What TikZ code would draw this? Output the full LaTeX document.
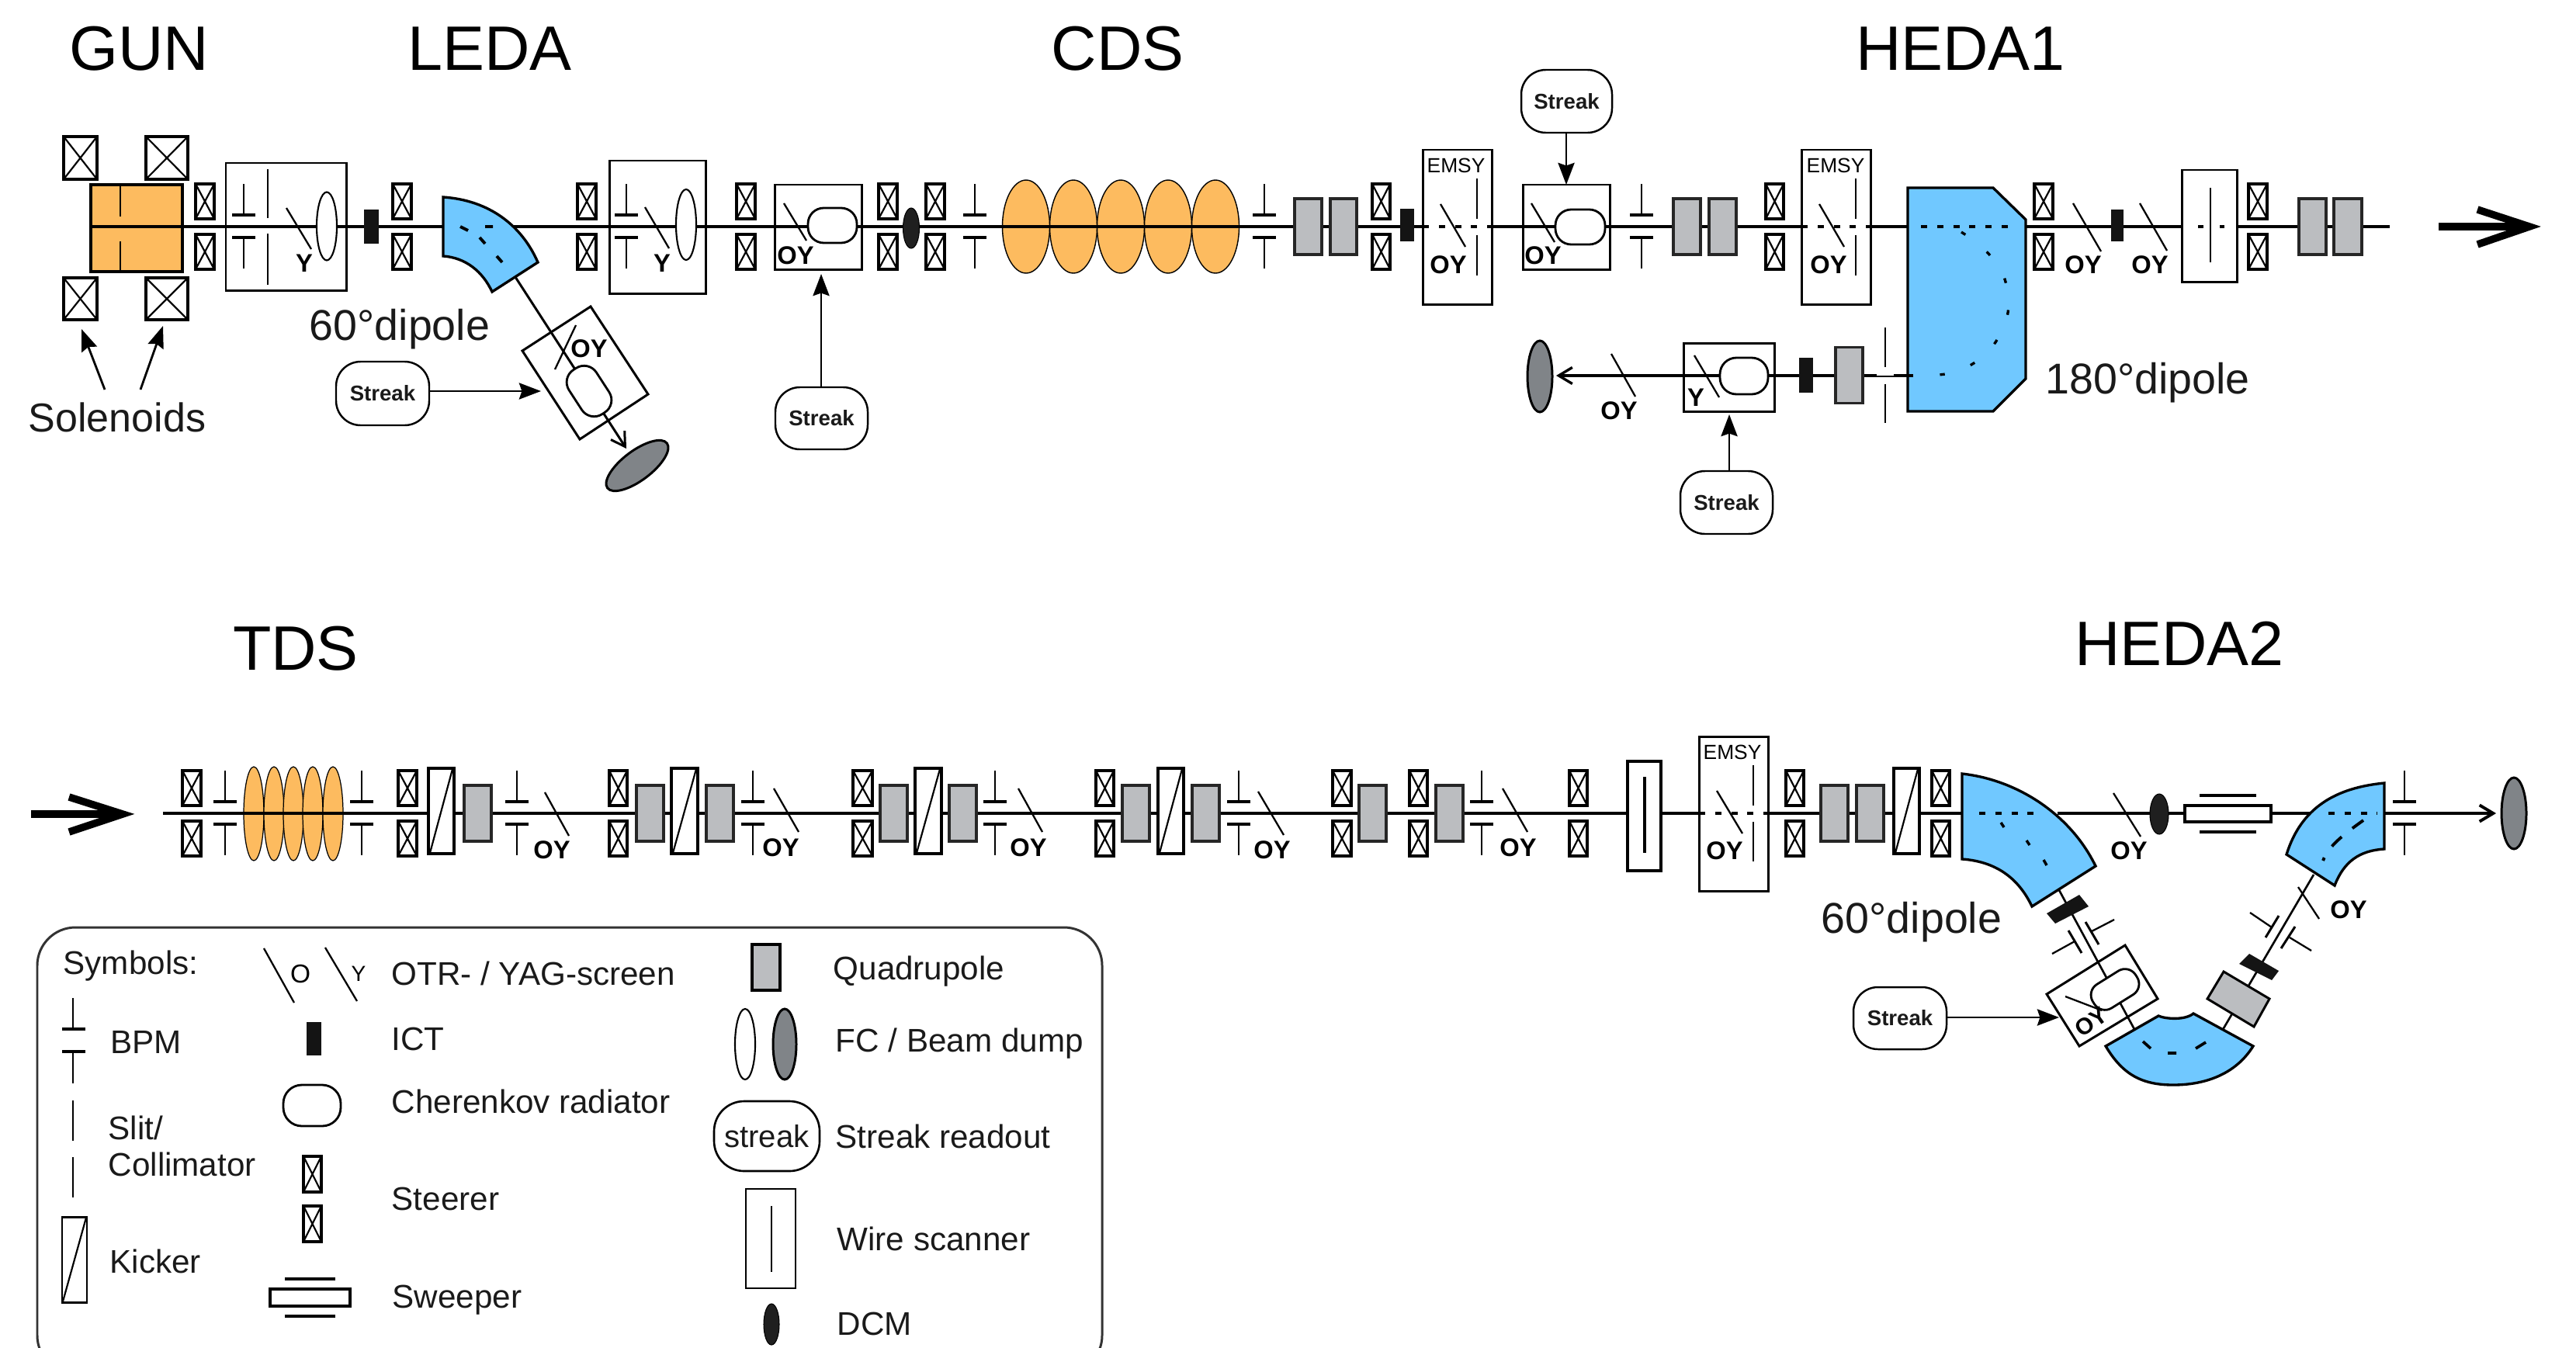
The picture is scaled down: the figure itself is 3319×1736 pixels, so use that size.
\documentclass[tikz,border=0pt]{standalone}
\usepackage{fontspec}
\setmainfont{Liberation Sans}
\usetikzlibrary{arrows.meta}
\definecolor{orng}{HTML}{FDBB5F}
\definecolor{dipblue}{HTML}{70C8FF}
\definecolor{quadgray}{HTML}{BBBDC0}
\definecolor{dumpgray}{HTML}{808488}
\definecolor{inkc}{HTML}{1A1A1A}
\newcounter{nn}
\tikzset{
  thk/.style={line width=1.2pt,line cap=butt},
  med/.style={line width=.85pt},
  thn/.style={line width=.62pt},
  dipole/.style={fill=dipblue,draw=black,line width=.95pt,line join=miter},
  quadst/.style={fill=quadgray,draw=black!85,line width=.9pt},
  box/.style={draw=black,line width=.85pt},
  wbox/.style={draw=black,fill=white,line width=.9pt},
  dashin/.style={line width=1.15pt,dash pattern=on 2.3pt off 3.6pt},
  dashcurve/.style={line width=.95pt,dash pattern=on 1.8pt off 10pt},
  sarrow/.style={line width=.8pt,-{Stealth[length=8pt,width=6pt,inset=1pt]}},
  openarrow/.style={line width=.85pt,-{Straight Barb[length=5pt,width=6pt]}},
  bigarrow/.style={line width=2.7pt,line join=miter},
  tlab/.style={inner sep=0pt,text=inkc,font=\fontsize{12}{14}\selectfont},
  title/.style={inner sep=0pt,text=black,font=\fontsize{23}{27}\selectfont},
  dlab/.style={inner sep=0pt,text=inkc,font=\fontsize{15.8}{18}\selectfont},
  oylab/.style={inner sep=0pt,text=black,font=\fontsize{9.3}{11}\selectfont\bfseries},
  emlab/.style={inner sep=0pt,text=black,font=\fontsize{7.5}{9}\selectfont},
}
% steerer-like crossed box
\newcommand{\CrossBox}[4]{%
  \draw[line width=1pt] (#1,#2) rectangle (#3,#4);
  \draw[thn] (#1,#2) -- (#3,#4) (#3,#2) -- (#1,#4);}
\newcommand{\SteerP}[3]{\CrossBox{#1}{#3-55}{#2}{#3-10}\CrossBox{#1}{#3+10}{#2}{#3+55}}
\newcommand{\BPMv}[2]{%
  \draw[line width=.7pt] (#1,#2-55) -- (#1,#2-15) (#1,#2+14) -- (#1,#2+54);
  \draw[line width=.95pt] (#1-15,#2-15) -- (#1+15,#2-15) (#1-15,#2+14) -- (#1+15,#2+14);}
\newcommand{\QuadV}[3]{\draw[quadst] (#1,#3-36) rectangle (#2,#3+36);}
\newcommand{\KickV}[3]{%
  \draw[wbox] (#1,#3-58) rectangle (#2,#3+52);
  \draw[thn] (#1+2,#3+51) -- (#2-2,#3-57);}
\newcommand{\Scr}[4]{\draw[line width=.65pt] (#1,#2) -- (#3,#4);}
\newcommand{\OYt}[2]{\stepcounter{nn}\node[oylab] (oy\thenn) at (#1,#2) {OY};}
\newcommand{\Yt}[2]{\stepcounter{nn}\node[oylab] (yy\thenn) at (#1,#2) {Y};}
\newcommand{\EmsyT}[2]{\stepcounter{nn}\node[emlab] (em\thenn) at (#1,#2) {EMSY};}
\newcommand{\Ict}[4]{\fill[black!92] (#1,#3) rectangle (#2,#4);}
\newcommand{\FC}[3]{\draw[fill=white,line width=.6pt] (#1,#2) ellipse [x radius=13,y radius=#3];}
\newcommand{\Dcm}[4]{\draw[fill=black!88,line width=.3pt] (#1,#2) ellipse [x radius=#3,y radius=#4];}
\newcommand{\Dump}[3]{\draw[fill=dumpgray,line width=.85pt] (#1,#2) ellipse [x radius=16,y radius=#3];}
% name, cx, cy, w, h, rot
\newcommand{\Cher}[6]{\node[draw=black,fill=white,line width=.8pt,inner sep=0pt,
   minimum width=#4*0.01cm,minimum height=#5*0.01cm,rounded corners=#5*0.0045cm,rotate=#6] (#1) at (#2,#3) {};}
% name, xl, xr, yt, yb
\newcommand{\StreakN}[5]{\node[draw=black,line width=.7pt,inner sep=0pt,rounded corners=9pt,
   text=inkc,font=\fontsize{7.85}{9}\selectfont\bfseries,
   minimum width={(#3-#2)*0.01cm},minimum height={(#5-#4)*0.01cm}] (#1) at ({(#2+#3)/2},{(#4+#5)/2}) {Streak};}
\begin{document}
\begin{tikzpicture}[x=0.01cm,y=-0.01cm]
\useasboundingbox (0,0) rectangle (3319,1736);
\fill[white] (0,0) rectangle (3319,1736);

% ---------- titles ----------
\node[title] (tGUN) at (179,63) {GUN};
\node[title] (tLEDA) at (631,63) {LEDA};
\node[title] (tCDS) at (1440,63) {CDS};
\node[title] (tHEDA1) at (2526,63) {HEDA1};
\node[title] (tTDS) at (381,836) {TDS};
\node[title] (tHEDA2) at (2808,829) {HEDA2};
\node[dlab] (d60a) at (515,424) {60°dipole};
\node[dlab] (d180) at (2767,493) {180°dipole};
\node[dlab] (d60b) at (2463,1188) {60°dipole};
\node[inner sep=0pt,text=inkc,font=\fontsize{14.8}{17}\selectfont] (tSol) at (151,538) {Solenoids};

% ---------- gun ----------
\draw[fill=orng,line width=.95pt] (117,238) rectangle (235,350);
\draw[thn,line width=.8pt] (155,238) -- (155,279) (155,311) -- (155,350);
\CrossBox{82}{176}{125}{231}
\CrossBox{188}{176}{242}{231}
\CrossBox{82}{358}{125}{412}
\CrossBox{188}{358}{242}{412}
\coordinate (solA) at (105,424);
\coordinate (solB) at (210,420);
\coordinate (solAs) at (135,502);
\coordinate (solBs) at (181,502);
\draw[sarrow] (solAs) -- (solA);
\draw[sarrow] (solBs) -- (solB);

% ---------- CDS cavity ----------
\foreach \cx in {1322,1383,1444,1505,1566}
  \draw[fill=orng,line width=.4pt] (\cx,292) ellipse [x radius=30.5,y radius=60];

% ---------- beam, first line ----------
\coordinate (b0) at (117,292);
\coordinate (b1) at (1833,292);
\coordinate (b2) at (1922,292);
\coordinate (b3) at (2321,292);
\coordinate (b4) at (2410,292);
\coordinate (b5) at (2458,292);
\coordinate (b6) at (2610,292);
\coordinate (b7) at (2811,292);
\coordinate (b8) at (2882,292);
\coordinate (b9) at (3079,292);
\draw[thk] (b0) -- (b1) (b2) -- (b3) (b4) -- (b5) (b6) -- (b7) (b8) -- (b9);
\draw[dashin] (b1) -- (b2);
\draw[dashin] (b3) -- (b4);

% ---------- GUN / LEDA elements ----------
\SteerP{252}{276}{292}
\draw[box] (291,210) rectangle (446,374);
\BPMv{314}{292}
\draw[line width=.7pt] (345,218) -- (345,281) (345,301) -- (345,367);
\Scr{369}{268}{401}{321}
\Yt{392}{339}
\FC{421}{291.5}{44}
\Ict{469}{488}{270}{314}
\SteerP{506}{530}{292}
% 60 deg dipole with side branch
\coordinate (sideA) at (664,357);
\coordinate (sideB) at (807,578);
\draw[openarrow] (sideA) -- (sideB);
\draw[dipole] (571,254) .. controls (630,258) and (672,290) .. (693,338)
   -- (634,376) .. controls (622,350) and (600,332) .. (571,330) -- cycle;
\draw[line width=1.1pt] (593,292) -- (603,297) (625,292) -- (635,292) (618,306) -- (625,314) (640,330) -- (647,338);
\draw[box] (761,395) -- (835,508) -- (747,566) -- (673,452) -- cycle;
\Scr{742}{419}{715}{476}
\OYt{759}{449}
\Cher{chA}{759}{504}{68}{42}{-57}
\draw[fill=dumpgray,line width=.85pt,shift={(821,600)},rotate=37] (0,0) ellipse [x radius=48,y radius=19];
\StreakN{stA}{433}{553}{466}{548}
\coordinate (stAe) at (697,504);
\draw[sarrow] (stA.east |- stAe) -- (stAe);
\SteerP{744}{768}{292}
\draw[box] (785,207) rectangle (909,378);
\BPMv{807}{292}
\Scr{831}{267}{862}{320}
\Yt{853}{339}
\FC{884}{289.5}{45.5}
\SteerP{949}{973}{292}
\draw[box] (998,238) rectangle (1110,347);
\Scr{1010}{262}{1039}{310}
\Cher{chB}{1072.5}{290.5}{63}{45}{0}
\OYt{1025}{329}
\StreakN{stB}{999}{1118}{499}{579}
\coordinate (stBe) at (1058,353);
\draw[sarrow] (stB.north -| stBe) -- (stBe);
\SteerP{1132}{1156}{292}

% ---------- CDS elements ----------
\Dcm{1174}{294}{10.5}{26}
\SteerP{1193}{1217}{292}
\BPMv{1256}{292}
\BPMv{1629}{292}
\QuadV{1668}{1703}{292}
\QuadV{1714}{1748}{292}
\SteerP{1768}{1791}{292}
\Ict{1804}{1822}{269}{311}

% ---------- EMSY 1 ----------
\draw[box] (1833,193) rectangle (1922,392);
\EmsyT{1876}{213}
\draw[line width=.7pt] (1903,230) -- (1903,282) (1903,303) -- (1903,355);
\Scr{1856}{263}{1888}{318}
\OYt{1866}{341}

% ---------- streak box ----------
\draw[box] (1962,238) rectangle (2074,347);
\Scr{1973}{262}{2003}{312}
\Cher{chC}{2036}{292.5}{64}{45}{0}
\OYt{1988}{329}
\StreakN{stC}{1960}{2077}{90}{171}
\coordinate (stCe) at (2018,238);
\draw[sarrow] (stC.south -| stCe) -- (stCe);
\BPMv{2115}{292}
\QuadV{2156}{2191}{292}
\QuadV{2202}{2237}{292}
\SteerP{2275}{2298}{292}

% ---------- EMSY 2 ----------
\draw[box] (2321,193) rectangle (2410,392);
\EmsyT{2365}{213}
\draw[line width=.7pt] (2391,230) -- (2391,282) (2391,303) -- (2391,355);
\Scr{2344}{263}{2376}{318}
\OYt{2356}{341}

% ---------- 180 dipole ----------
\draw[dipole] (2458,242) -- (2568,242) -- (2610,283) -- (2610,488) -- (2568,530) -- (2458,530) -- cycle;
\draw[dashin] (2475,292) -- (2593,292);
\draw[dashcurve] plot[smooth] coordinates {(2527,299) (2550,315) (2569,335) (2582,357) (2588,384) (2586,408) (2576,433) (2560,455) (2538,471) (2512,481) (2486,484)};
\SteerP{2621}{2645}{292}
\Scr{2671}{262}{2707}{324}
\OYt{2684}{341}
\Ict{2720}{2736}{270}{311}
\Scr{2757}{262}{2792}{323}
\OYt{2770}{341}
\draw[box] (2811,219) rectangle (2882,363);
\draw[line width=.7pt] (2848,242) -- (2848,338);
\draw[line width=1.15pt] (2832,292) -- (2839,292) (2860,292) -- (2866,292);
\SteerP{2897}{2921}{292}
\QuadV{2962}{2997}{292}
\QuadV{3007}{3043}{292}
\coordinate (bigAs) at (3142,292);
\coordinate (bigAe) at (3259,292);
\draw[bigarrow] (bigAs) -- (bigAe);
\draw[bigarrow] (3192,270) -- (bigAe) -- (3192,315);

% ---------- lower branch of 180 dipole ----------
\coordinate (lbS) at (2465,484);
\coordinate (lbE) at (2005,484);
\draw[openarrow,line width=.95pt] (lbS) -- (lbE);
\Dump{1984}{485}{46}
\Scr{2076}{456}{2107}{511}
\OYt{2086}{529}
\draw[box] (2169,442) rectangle (2286,530);
\Scr{2183}{458}{2215}{512}
\Yt{2185}{512}
\Cher{chD}{2247}{484.5}{62}{47}{0}
\StreakN{stD}{2165}{2284}{607}{688}
\coordinate (stDe) at (2228,534);
\draw[sarrow] (stD.north -| stDe) -- (stDe);
\Ict{2318}{2336}{461}{506}
\QuadV{2365}{2400}{483.5}
\fill[white] (2418,473) rectangle (2440,484);
\draw[line width=.7pt] (2429,422) -- (2429,473) (2429,495) -- (2429,545);

% ---------- beam, second line ----------
\coordinate (c0) at (210,1048);
\coordinate (c1) at (2097,1048);
\coordinate (c2) at (2140,1048);
\coordinate (c3) at (2189,1048);
\coordinate (c4) at (2278,1048);
\coordinate (c5) at (2528,1048);
\coordinate (c6) at (2651,1048);
\coordinate (c7) at (3216,1048);
\foreach \cx in {327,353,378,403,429}
  \draw[fill=orng,line width=.35pt] (\cx,1048.5) ellipse [x radius=13,y radius=60.5];
\draw[thk] (c0) -- (c1) (c2) -- (c3) (c4) -- (c5);
\draw[dashin] (c3) -- (c4);
\draw[thk] (c6) -- (3200,1048);
\draw[openarrow,line width=1.1pt] (3190,1048) -- (c7);
\coordinate (bigBs) at (40,1049);
\coordinate (bigBe) at (158,1049);
\draw[bigarrow] (bigBs) -- (bigBe);
\draw[bigarrow] (89,1027) -- (bigBe) -- (89,1072);

\SteerP{235}{259}{1048}
\BPMv{290}{1048}
\BPMv{466}{1048}
\SteerP{513}{537}{1048}
\KickV{552}{585}{1048}
\QuadV{598}{633}{1048}
\BPMv{666}{1048}
\Scr{702}{1021}{733}{1077}
\OYt{711}{1095}
\SteerP{785}{808}{1048}
\QuadV{820}{855}{1048}
\KickV{865}{899}{1048}
\QuadV{910}{945}{1048}
\BPMv{970}{1048}
\Scr{997}{1016}{1029}{1072}
\OYt{1006}{1092}
\SteerP{1099}{1124}{1048}
\QuadV{1134}{1169}{1048}
\KickV{1179}{1213}{1048}
\QuadV{1223}{1258}{1048}
\BPMv{1282}{1048}
\Scr{1312}{1016}{1343}{1072}
\OYt{1325}{1092}
\SteerP{1412}{1435}{1048}
\QuadV{1446}{1481}{1048}
\KickV{1492}{1525}{1048}
\QuadV{1536}{1571}{1048}
\BPMv{1596}{1048}
\Scr{1621}{1020}{1654}{1076}
\OYt{1639}{1095}
\SteerP{1717}{1741}{1048}
\QuadV{1751}{1786}{1048}
\SteerP{1816}{1839}{1048}
\QuadV{1850}{1885}{1048}
\BPMv{1909}{1048}
\Scr{1936}{1016}{1968}{1072}
\OYt{1956}{1092}
\SteerP{2022}{2045}{1048}
\draw[line width=.95pt] (2097,981) rectangle (2140,1122);
\draw[line width=1pt] (2119,1001) -- (2119,1099);
\draw[box] (2189,949) rectangle (2278,1148);
\EmsyT{2232}{969}
\draw[line width=.7pt] (2259,986) -- (2259,1038) (2259,1059) -- (2259,1110);
\Scr{2212}{1019}{2245}{1074}
\OYt{2222}{1096}
\SteerP{2301}{2324}{1048}
\QuadV{2346}{2381}{1048}
\QuadV{2392}{2427}{1048}
\KickV{2440}{2473}{1048}
\SteerP{2489}{2512}{1048}

% ---------- HEDA2 arc ----------
\coordinate (vA) at (2653,1147);
\coordinate (vB) at (2752,1330);
\coordinate (vC) at (2981,1127);
\coordinate (vD) at (2862,1330);
\draw[line width=.75pt] (vA) -- (vB);
\draw[line width=.75pt] (vC) -- (vD);
\draw[dipole] (2528,997) .. controls (2600,1005) and (2668,1050) .. (2700,1116)
   -- (2618,1168) .. controls (2600,1130) and (2570,1110) .. (2528,1107) -- cycle;
\draw[dashin] (2550,1048) -- (2620,1048);
\draw[line width=1pt] (2578,1060) -- (2582,1066) (2611,1083) -- (2615,1089) (2633,1108) -- (2637,1115);
\Scr{2723}{1022}{2758}{1078}
\OYt{2743}{1096}
\Dcm{2782}{1049}{12}{26}
\draw[draw=black,fill=white,line width=1.3pt] (2815,1038) rectangle (2926,1059);
\draw[line width=.95pt] (2834,1025) -- (2907,1025) (2834,1072) -- (2907,1072);
\draw[dipole] (3072,1009) .. controls (3010,1015) and (2965,1040) .. (2946,1101)
   -- (3008,1141) .. controls (3020,1110) and (3040,1096) .. (3072,1094) -- cycle;
\draw[dashin] (3000,1048) -- (3063,1048);
\draw[line width=1.1pt,dash pattern=on 5pt off 5pt] (3045,1057) .. controls (3020,1075) and (3000,1090) .. (2993,1109);
\Dump{3239}{1048}{46}
\BPMv{3098}{1048}

% left leg
\fill[black!92] (2637,1177) -- (2679,1153) -- (2691,1168) -- (2648,1190) -- cycle;
\draw[line width=.65pt] (2644,1229) -- (2673,1213) (2724,1185) -- (2695,1200);
\draw[line width=.85pt] (2665,1199) -- (2682,1228) (2687,1188) -- (2704,1217);
\draw[box] (2738,1218) -- (2780,1287) -- (2679,1348) -- (2637,1281) -- cycle;
\Cher{chE}{2725}{1275}{65}{36}{32}
\Scr{2661}{1284}{2708}{1302}
\stepcounter{nn}\node[inner sep=0pt,text=black,rotate=35,font=\fontsize{8.5}{9}\selectfont\bfseries] (oyrot) at (2694,1317) {OY};
\StreakN{stE}{2388}{2508}{1272}{1352}
\coordinate (stEe) at (2653,1311);
\draw[sarrow] (stE.east |- stEe) -- (stEe);
% bottom dipole
\draw[dipole] (2713,1348) -- (2781,1309) .. controls (2790,1313) and (2815,1315) .. (2826,1306)
   -- (2903,1348) .. controls (2880,1385) and (2840,1398) .. (2800,1398)
   .. controls (2760,1398) and (2735,1385) .. (2713,1348) -- cycle;
\draw[line width=1.05pt] (2761,1342) -- (2771,1351) (2793,1357) -- (2804,1357) (2829,1351) -- (2842,1343);
% right leg
\draw[draw=black,fill=quadgray,line width=.85pt] (2865,1252) -- (2924,1287) -- (2904,1323) -- (2844,1287) -- cycle;
\fill[black!92] (2898,1229) -- (2936,1251) -- (2927,1263) -- (2885,1242) -- cycle;
\draw[line width=.65pt] (2899,1176) -- (2927,1195) (2978,1225) -- (2950,1208);
\draw[line width=.85pt] (2936,1180) -- (2919,1208) (2957,1194) -- (2939,1222);
\Scr{2961}{1143}{2988}{1184}
\OYt{3026}{1172}

% ---------- legend ----------
\begin{scope}
\clip (0,0) rectangle (3319,1736);
\draw[line width=.85pt,draw=black!80,rounded corners=14pt] (48,1195) rectangle (1420,1770);
\end{scope}
\node[tlab,anchor=west] (lSym) at (81,1245) {Symbols:};
\Scr{340}{1222}{379}{1292}
\node[inner sep=0pt,font=\fontsize{9.5}{11}\selectfont] (lsO) at (387,1255) {O};
\Scr{419}{1221}{460}{1290}
\node[inner sep=0pt,font=\fontsize{8}{10}\selectfont] (lsY) at (462,1255) {Y};
\node[tlab,anchor=west] (lOTR) at (504,1254) {OTR- / YAG-screen};
\draw[line width=.95pt,fill=quadgray] (969,1217) rectangle (1005,1276);
\node[tlab,anchor=west] (lQuad) at (1073,1252) {Quadrupole};
\draw[line width=.7pt] (94,1286) -- (94,1326) (94,1355) -- (94,1396);
\draw[line width=.95pt] (80,1326) -- (110,1326) (80,1355) -- (110,1355);
\node[tlab,anchor=west] (lBPM) at (142,1343) {BPM};
\fill[black!92] (395,1317) rectangle (414,1360);
\node[tlab,anchor=west] (lICT) at (504,1339) {ICT};
\draw[fill=white,line width=.6pt] (960,1345.5) ellipse [x radius=13,y radius=45.5];
\draw[fill=dumpgray,line width=.85pt] (1011,1345.5) ellipse [x radius=15,y radius=45.5];
\node[tlab,anchor=west] (lFC) at (1076,1345) {FC / Beam dump};
\draw[line width=.65pt] (94,1418) -- (94,1470) (94,1491) -- (94,1543);
\node[tlab,anchor=west] (lSlit) at (139,1453) {Slit/};
\node[tlab,anchor=west] (lColl) at (139,1500) {Collimator};
\Cher{lCher}{402}{1424.5}{74}{53}{0}
\node[tlab,anchor=west] (lCh) at (504,1419) {Cherenkov radiator};
\node[draw=black,line width=.75pt,rounded corners=11pt,inner sep=0pt,text=inkc,
  minimum width=136*0.01cm,minimum height=90*0.01cm,font=\fontsize{11.4}{13}\selectfont] (lStreak) at (988,1464) {streak};
\node[tlab,anchor=west] (lSt) at (1076,1464) {Streak readout};
\CrossBox{391}{1490}{414}{1536}
\CrossBox{391}{1554}{414}{1600}
\node[tlab,anchor=west] (lSteer) at (504,1545) {Steerer};
\draw[line width=.75pt] (961,1532) rectangle (1025,1660);
\draw[line width=.6pt] (994,1554) -- (994,1639);
\node[tlab,anchor=west] (lWire) at (1078,1596) {Wire scanner};
\draw[line width=.85pt] (80,1568) rectangle (112,1678);
\draw[thn] (81,1677) -- (111,1569);
\node[tlab,anchor=west] (lKick) at (141,1625) {Kicker};
\draw[line width=1.3pt] (348,1661) rectangle (451,1683);
\draw[line width=.95pt] (367,1648) -- (432,1648) (367,1696) -- (432,1696);
\node[tlab,anchor=west] (lSw) at (505,1675) {Sweeper};
\draw[fill=black!88,line width=.3pt] (994,1706.5) ellipse [x radius=10,y radius=26.5];
\node[tlab,anchor=west] (lDcm) at (1078,1706) {DCM};
\end{tikzpicture}
\end{document}
